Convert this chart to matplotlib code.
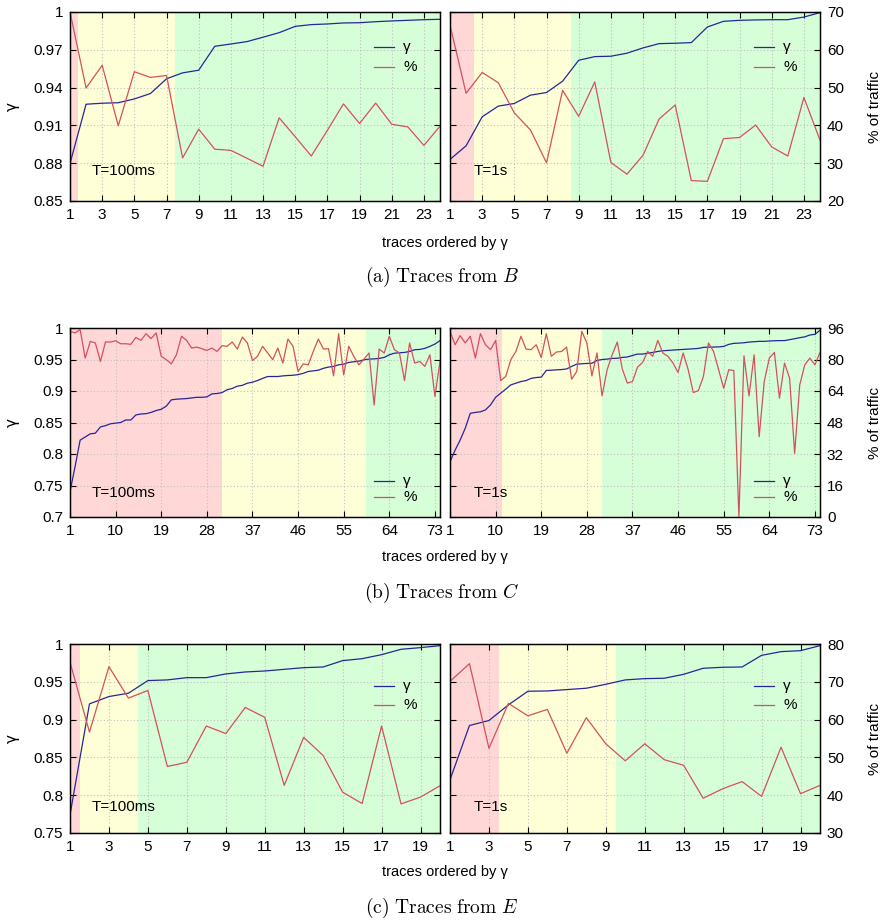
import numpy as np
import matplotlib.pyplot as plt

plt.rcParams['font.family'] = ['Liberation Sans', 'DejaVu Sans']
plt.rcParams['mathtext.fontset'] = 'cm'

# ---- (a) traces from B ----
gamma_a_100ms = [0.8798, 0.9268, 0.9276, 0.928, 0.931, 0.9353, 0.947, 0.9517,
                 0.9538, 0.9728, 0.9746, 0.9765, 0.980, 0.9836, 0.9886, 0.990,
                 0.9905, 0.9913, 0.9915, 0.9923, 0.9929, 0.9934, 0.9939, 0.9942]
pct_a_100ms = [70.0, 49.9, 55.9, 39.9, 54.2, 52.7, 53.2, 31.4, 39.0, 33.7, 33.4,
               31.3, 29.2, 42.0, 37.0, 31.9, 38.7, 45.7, 40.5, 45.9, 40.3, 39.6,
               34.7, 39.8]
gamma_a_1s = [0.883, 0.8938, 0.9168, 0.9253, 0.9274, 0.934, 0.9361, 0.9451,
              0.9617, 0.9646, 0.9649, 0.9673, 0.9715, 0.9749, 0.9752, 0.9757,
              0.9881, 0.9926, 0.9934, 0.9937, 0.9939, 0.9939, 0.996, 0.9995]
pct_a_1s = [66.5, 48.5, 54.0, 51.3, 43.3, 38.8, 30.1, 49.3, 42.4, 51.5, 30.2,
            27.1, 32.1, 41.7, 45.4, 25.4, 25.2, 36.5, 36.8, 40.1, 34.3, 31.9,
            47.4, 36.1]

# ---- (b) traces from C ----
gamma_b_100ms = [0.740, 0.780, 0.822, 0.827, 0.832, 0.833, 0.843, 0.845, 0.848,
                 0.849, 0.850, 0.854, 0.854, 0.862, 0.8635, 0.864, 0.866, 0.869,
                 0.871, 0.876, 0.886, 0.887, 0.8875, 0.888, 0.889, 0.890, 0.890,
                 0.8906, 0.8954, 0.896, 0.8975, 0.902, 0.904, 0.9076, 0.909,
                 0.9124, 0.914, 0.9166, 0.920, 0.923, 0.923, 0.923, 0.924, 0.9246,
                 0.925, 0.926, 0.928, 0.931, 0.932, 0.933, 0.936, 0.938, 0.939,
                 0.9416, 0.9426, 0.9453, 0.9464, 0.9474, 0.9496, 0.9506, 0.951,
                 0.9517, 0.9533, 0.9575, 0.960, 0.9607, 0.9612, 0.9628, 0.9655,
                 0.966, 0.9676, 0.9708, 0.9745, 0.980]
pct_b_100ms = [94.3, 93.5, 95.2, 80.7, 89.2, 88.4, 79.0, 88.9, 88.9, 89.5, 88.0,
               88.0, 87.7, 91.2, 89.7, 93.1, 90.6, 93.5, 81.6, 79.9, 77.8, 82.4,
               91.8, 89.7, 85.8, 86.3, 85.5, 84.6, 85.8, 84.1, 87.0, 86.7, 88.9,
               85.3, 91.4, 88.4, 79.5, 81.6, 86.7, 83.3, 79.9, 85.8, 78.2, 90.4,
               86.7, 73.9, 77.8, 77.3, 84.1, 90.4, 85.3, 85.5, 71.7, 93.1, 72.2,
               86.7, 81.6, 77.3, 80.2, 83.3, 56.9, 85.3, 83.3, 91.8, 85.0, 83.3,
               69.3, 88.4, 78.2, 79.0, 76.5, 82.4, 61.2, 79.0]
gamma_b_1s = [0.7876, 0.806, 0.822, 0.8407, 0.8646, 0.866, 0.867, 0.870, 0.878,
              0.890, 0.8965, 0.903, 0.9097, 0.9124, 0.915, 0.9166, 0.920, 0.9214,
              0.922, 0.9326, 0.933, 0.9336, 0.934, 0.935, 0.939, 0.9427, 0.9432,
              0.9437, 0.944, 0.9485, 0.950, 0.9506, 0.9517, 0.952, 0.9533, 0.954,
              0.9564, 0.9586, 0.9586, 0.960, 0.9612, 0.9628, 0.9639, 0.9644,
              0.965, 0.9655, 0.966, 0.9665, 0.967, 0.9676, 0.9692, 0.9697,
              0.9697, 0.970, 0.9708, 0.974, 0.9756, 0.976, 0.9766, 0.9777,
              0.9782, 0.9788, 0.9788, 0.9793, 0.9798, 0.980, 0.980, 0.9815,
              0.983, 0.9846, 0.986, 0.9889, 0.990, 0.9963]
pct_b_1s = [94.3, 87.5, 92.1, 88.4, 91.8, 80.7, 93.1, 87.5, 85.0, 89.7, 69.3,
            71.4, 79.9, 84.1, 91.8, 85.3, 85.0, 87.5, 81.0, 93.1, 81.6, 83.8,
            84.1, 86.3, 70.0, 73.9, 94.3, 88.4, 71.7, 83.3, 61.5, 74.8, 82.4,
            88.9, 75.1, 68.0, 68.8, 76.1, 78.5, 84.1, 81.6, 89.7, 83.3, 81.6,
            78.2, 73.4, 83.3, 74.8, 63.2, 64.2, 71.4, 88.4, 84.1, 74.8, 65.4,
            74.8, 74.4, 0.0, 81.9, 61.5, 82.4, 40.8, 68.8, 80.7, 83.6, 60.3,
            78.2, 70.5, 32.3, 67.1, 77.3, 80.7, 77.3, 83.6, 79.0][:74]

# ---- (c) traces from E ----
gamma_c_100ms = [0.774, 0.9208, 0.9305, 0.9349, 0.9516, 0.9525, 0.9555, 0.9555,
                 0.9604, 0.963, 0.9643, 0.9665, 0.9687, 0.9696, 0.978, 0.9806,
                 0.9859, 0.993, 0.9952, 0.9978]
pct_c_100ms = [75.2, 56.7, 74.0, 65.7, 67.7, 47.6, 48.7, 58.3, 56.3, 63.2, 60.6,
               42.6, 55.3, 50.5, 40.8, 37.8, 58.3, 37.7, 39.5, 42.5]
gamma_c_1s = [0.8204, 0.8922, 0.8988, 0.9195, 0.9375, 0.9379, 0.9397, 0.9415,
              0.9467, 0.9525, 0.9542, 0.9547, 0.9599, 0.9679, 0.9692, 0.9696,
              0.985, 0.9899, 0.9912, 0.9978]
pct_c_1s = [70.1, 74.8, 52.4, 64.3, 61.0, 62.7, 51.1, 60.5, 53.6, 49.1, 53.6,
            49.4, 47.9, 39.2, 41.7, 43.6, 39.7, 52.7, 40.4, 42.6]

# zone boundaries (red | yellow | green)
zones_a_100ms = [1.5, 7.5]
zones_a_1s = [2.5, 8.5]
zones_b_100ms = [30.9, 59.4]
zones_b_1s = [11.2, 30.9]
zones_c_100ms = [1.5, 4.5]
zones_c_1s = [3.5, 9.5]

gamma_ticks_a = [0.85, 0.88, 0.91, 0.94, 0.97, 1.0]
gamma_ticks_b = [0.7, 0.75, 0.8, 0.85, 0.9, 0.95, 1.0]
gamma_ticks_c = [0.75, 0.8, 0.85, 0.9, 0.95, 1.0]
pct_ticks_a = [20, 30, 40, 50, 60, 70]
pct_ticks_b = [0, 16, 32, 48, 64, 80, 96]
pct_ticks_c = [30, 40, 50, 60, 70, 80]
xticks_a = list(range(1, 24, 2))
xticks_b = list(range(1, 74, 9))
xticks_c = list(range(1, 20, 2))

captions = [r'$\mathrm{(a)\ Traces\ from}\ B$',
            r'$\mathrm{(b)\ Traces\ from}\ C$',
            r'$\mathrm{(c)\ Traces\ from}\ E$']

GAMMA_COLOR = '#26269a'
PCT_COLOR = '#d4505f'
ZONE_COLORS = ['#ffd7d7', '#ffffd7', '#d7ffd7']
FS = 11


def fmt(v):
    return '%g' % v


def draw_panel(fig, rect, gamma, pct, zones, gticks, pticks, xticks,
               tlabel, tpos, legend_y, side):
    ax = fig.add_axes(rect)
    tw = ax.twinx()
    n = len(gamma)
    x = np.arange(1, n + 1)

    edges = [1] + zones + [n]
    for i in range(3):
        ax.axvspan(edges[i], edges[i + 1], color=ZONE_COLORS[i], lw=0,
                   zorder=0.1)

    ax.plot(x, gamma, color=GAMMA_COLOR, lw=0.9, zorder=3)
    tw.plot(x, pct, color=PCT_COLOR, lw=0.9)

    ax.set_xlim(1, n)
    ax.set_ylim(gticks[0], gticks[-1])
    tw.set_ylim(pticks[0], pticks[-1])
    ax.set_xticks(xticks)
    ax.set_xticklabels([str(t) for t in xticks], fontsize=FS)
    ax.set_yticks(gticks)
    tw.set_yticks(pticks)

    ax.set_axisbelow(True)
    ax.grid(True, ls=(0, (1, 2)), color='#c0c0c0', lw=0.8, zorder=0.5)

    ax.tick_params(direction='in', length=4, width=0.8, top=True,
                   right=False, labelsize=FS, pad=5)
    tw.tick_params(direction='in', length=4, width=0.8, labelsize=FS, pad=5)
    if side == 'left':
        ax.set_yticklabels([fmt(t) for t in gticks])
        tw.set_yticklabels([])
        ax.set_ylabel('γ', fontsize=FS, labelpad=10,
                      family=['DejaVu Sans'])
    else:
        ax.set_yticklabels([])
        tw.set_yticklabels([fmt(t) for t in pticks])
        tw.set_ylabel('% of traffic', fontsize=FS, labelpad=17)

    for a in (ax, tw):
        for s in a.spines.values():
            s.set_linewidth(0.9)

    ax.text(tpos[0], tpos[1], tlabel, transform=ax.transAxes, fontsize=FS,
            va='center', ha='left', zorder=5)

    # key
    for yk, col, lab in ((legend_y[0], GAMMA_COLOR, 'γ'),
                         (legend_y[1], PCT_COLOR, '%')):
        ax.plot([0.822, 0.876], [yk, yk], transform=ax.transAxes, color=col,
                lw=0.9, zorder=5, clip_on=False)
        ax.text(0.9, yk, lab, transform=ax.transAxes, fontsize=FS,
                va='center', ha='left', zorder=5)
    return ax


fig = plt.figure(figsize=(8.84, 9.24), dpi=100)

W = 370 / 884
H = 189 / 924
LX = 70 / 884
RX = 450 / 884
rows = [
    (1 - 201 / 924, gamma_a_100ms, pct_a_100ms, zones_a_100ms,
     gamma_a_1s, pct_a_1s, zones_a_1s, gamma_ticks_a, pct_ticks_a, xticks_a,
     (0.16, 0.16), (0.815, 0.71), 0.737, 0.700),
    (1 - 517 / 924, gamma_b_100ms, pct_b_100ms, zones_b_100ms,
     gamma_b_1s, pct_b_1s, zones_b_1s, gamma_ticks_b, pct_ticks_b, xticks_b,
     (0.127, 0.127), (0.19, 0.106), 0.397, 0.358),
    (1 - 833 / 924, gamma_c_100ms, pct_c_100ms, zones_c_100ms,
     gamma_c_1s, pct_c_1s, zones_c_1s, gamma_ticks_c, pct_ticks_c, xticks_c,
     (0.14, 0.14), (0.78, 0.677), 0.056, 0.017),
]

for k, (b, g1, p1, z1, g2, p2, z2, gt, pt, xt, ty, ly, xl_y, cap_y) in \
        enumerate(rows):
    draw_panel(fig, [LX, b, W, H], g1, p1, z1, gt, pt, xt,
               'T=100ms', (0.058, ty[0]), ly, 'left')
    draw_panel(fig, [RX, b, W, H], g2, p2, z2, gt, pt, xt,
               'T=1s', (0.063, ty[1]), ly, 'right')
    fig.text(0.503, xl_y, 'traces ordered by γ', fontsize=10.5,
             ha='center', va='center')
    fig.text(0.5, cap_y, captions[k], fontsize=14, ha='center',
             va='center')

fig.savefig('out.png', dpi=100)
